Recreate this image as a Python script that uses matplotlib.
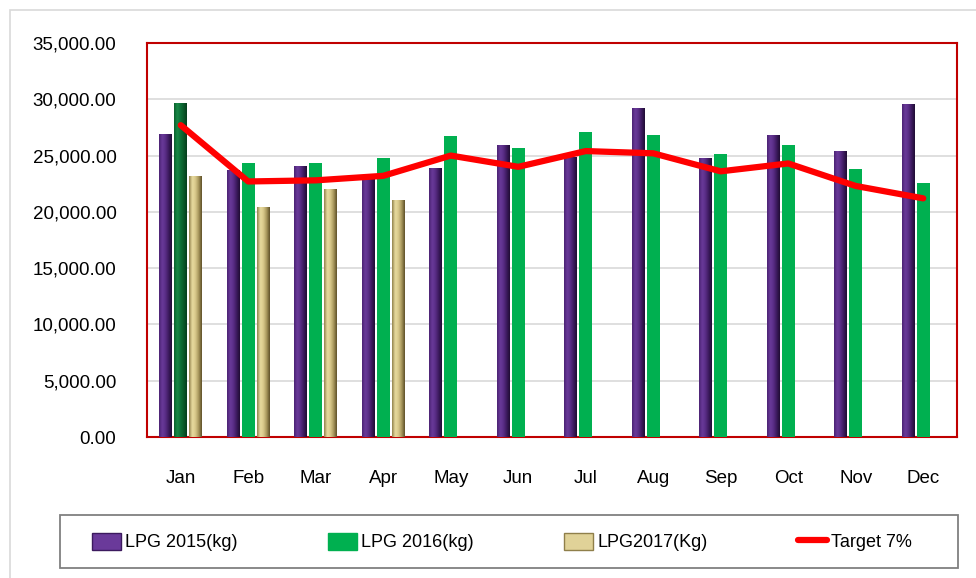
import numpy as np
import matplotlib
matplotlib.use("Agg")
import matplotlib.pyplot as plt
from matplotlib.colors import LinearSegmentedColormap
from matplotlib.patches import Rectangle, Patch
from matplotlib.lines import Line2D

plt.rcParams['font.family'] = ['Liberation Sans', 'DejaVu Sans']

months = ["Jan", "Feb", "Mar", "Apr", "May", "Jun", "Jul", "Aug", "Sep", "Oct", "Nov", "Dec"]
lpg2015 = [26900, 23700, 24100, 23000, 23900, 25900, 24900, 29200, 24800, 26850, 25450, 29600]
lpg2016 = [29650, 24300, 24350, 24800, 26700, 25700, 27100, 26850, 25150, 25900, 23800, 22600]
lpg2017 = [23200, 20400, 22000, 21050]
target = [27700, 22700, 22800, 23200, 25000, 24000, 25400, 25200, 23600, 24300, 22300, 21200]
yticks = [0, 5000, 10000, 15000, 20000, 25000, 30000, 35000]

fig = plt.figure(figsize=(9.76, 5.78), dpi=100)
# outer chart border
fig.patches.append(Rectangle((10/976, -0.05), 1.1, (578-10)/578 + 0.05, transform=fig.transFigure,
                             fill=False, edgecolor="#d9d9d9", lw=1.2, zorder=0))
# legend frame
fig.patches.append(Rectangle((60/976, (578-568)/578), 898/976, 53/578, transform=fig.transFigure,
                             fill=False, edgecolor="#808080", lw=1.3, zorder=1))

ax = fig.add_axes([147/976, (578-437)/578, 810/976, 394/578])
x = np.arange(len(months))
w = 0.19
off = 0.22

purple_cmap = LinearSegmentedColormap.from_list("p", ["#4a2272", "#6a3a9a", "#5a2d86", "#3c1a5e", "#1f0c33"])
gold_cmap = LinearSegmentedColormap.from_list("g", ["#8f7f4a", "#e9dca0", "#d8c88a", "#a8975c", "#5e4f28"])
dgreen_cmap = LinearSegmentedColormap.from_list("dg", ["#0a5f2c", "#1a8a48", "#0e7038", "#0a5a2a", "#053d1c"])
grad = np.linspace(0, 1, 64).reshape(1, -1)

def grad_bars(bars, cmap):
    for b in bars:
        x0, y0 = b.get_x(), b.get_y()
        im = ax.imshow(grad, cmap=cmap, extent=(x0, x0 + b.get_width(), y0, y0 + b.get_height()),
                       aspect='auto', zorder=3, interpolation='bicubic')
        im.set_clip_path(b)

b15 = ax.bar(x - off, lpg2015, w, color="#5a2d86", zorder=3)
grad_bars(b15, purple_cmap)
colors16 = ["#00b050"] * len(months)
b16 = ax.bar(x, lpg2016, w, color=colors16, zorder=3)
grad_bars([b16[0]], dgreen_cmap)
b17 = ax.bar(x[:len(lpg2017)] + off, lpg2017, w, color="#d8c88a", zorder=3)
grad_bars(b17, gold_cmap)

ax.plot(x, target, color="#ff0000", lw=4.5, zorder=5, solid_capstyle='round', solid_joinstyle='round')

ax.set_xlim(-0.5, len(months) - 0.5)
ax.set_ylim(0, 35000)
ax.set_yticks(yticks)
ax.set_yticklabels([f"{v:,.2f}" for v in yticks])
ax.set_xticks(x)
ax.set_xticklabels(months)
ax.tick_params(axis='both', length=0, labelsize=13.5, colors="#000000")
ax.tick_params(axis='y', pad=22)
ax.tick_params(axis='x', pad=23.5)
ax.yaxis.grid(True, color="#d9d9d9", lw=1.2, zorder=0)
ax.set_axisbelow(True)
for s in ax.spines.values():
    s.set_color("#c00000")
    s.set_linewidth(1.5)

handles = [
    Patch(facecolor="#6a3a9a", edgecolor="#3c1a5e"),
    Patch(facecolor="#00b050", edgecolor="#00b050"),
    Patch(facecolor="#e0d298", edgecolor="#8f7f4a"),
    Line2D([0], [0], color="#ff0000", lw=4.5, solid_capstyle='round'),
]
labels = ["LPG 2015(kg)", "LPG 2016(kg)", "LPG2017(Kg)", "Target 7%"]
leg = fig.legend(handles, labels, ncol=4, loc="center",
                 bbox_to_anchor=(502/976, (578-542)/578),
                 fontsize=13, frameon=False,
                 handlelength=1.6, handleheight=1.1, handletextpad=0.25, columnspacing=5.0,
                 borderaxespad=0, borderpad=0)

fig.savefig("out.png", dpi=100)
